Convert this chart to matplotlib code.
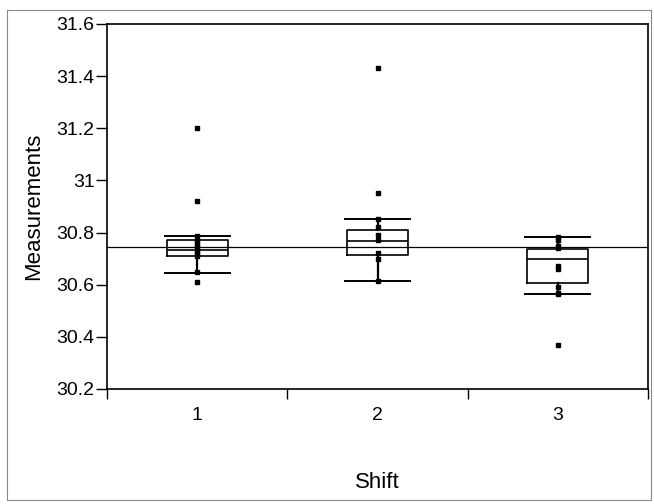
import matplotlib
matplotlib.use("Agg")
import matplotlib.pyplot as plt
from matplotlib.patches import Rectangle

plt.rcParams["font.family"] = ["Liberation Sans", "DejaVu Sans"]

# donnees
shifts = ["1", "2", "3"]

pts_1 = [31.20, 30.92, 30.785, 30.77, 30.76, 30.75, 30.74, 30.73, 30.72, 30.71, 30.65, 30.61]
pts_2 = [31.43, 30.95, 30.853, 30.82, 30.79, 30.77, 30.72, 30.70, 30.615]
pts_3 = [30.783, 30.77, 30.75, 30.74, 30.67, 30.66, 30.59, 30.57, 30.565, 30.37]

whislo = [30.645, 30.615, 30.565]
q1     = [30.710, 30.713, 30.605]
med    = [30.735, 30.767, 30.700]
q3     = [30.770, 30.810, 30.738]
whishi = [30.785, 30.853, 30.783]

grand_mean = 30.745

y_ticks = [30.2, 30.4, 30.6, 30.8, 31.0, 31.2, 31.4, 31.6]
y_labels = ["30.2", "30.4", "30.6", "30.8", "31", "31.2", "31.4", "31.6"]

fig = plt.figure(figsize=(6.54, 5.04), dpi=100)
ax = fig.add_axes([107 / 654, 1 - 389 / 504, 541 / 654, 365 / 504])

# cadre exterieur gris
fig.patches.append(Rectangle((7 / 654, 4 / 504), 644 / 654, 490 / 504,
                             transform=fig.transFigure, fill=False,
                             edgecolor="#888888", linewidth=0.8))

stats = []
for i in range(3):
    stats.append({
        "whislo": whislo[i], "q1": q1[i], "med": med[i],
        "q3": q3[i], "whishi": whishi[i], "fliers": [],
    })

pos = [1, 2, 3]
ax.bxp(stats, positions=pos, widths=0.34, showfliers=False,
       boxprops=dict(color="black", linewidth=1.2),
       medianprops=dict(color="black", linewidth=1.2),
       whiskerprops=dict(color="black", linewidth=1.6),
       capprops=dict(color="black", linewidth=1.4),
       capwidths=0.36)

for x, pts in zip(pos, [pts_1, pts_2, pts_3]):
    ax.plot([x] * len(pts), pts, linestyle="none", marker="s",
            markersize=3.5, color="black")

ax.axhline(grand_mean, color="black", linewidth=0.9, zorder=1)

ax.set_xlim(0.5, 3.5)
ax.set_ylim(30.2, 31.6)

ax.set_yticks(y_ticks)
ax.set_yticklabels(y_labels, fontsize=14)
ax.tick_params(axis="y", direction="out", length=8, width=1, pad=1)

ax.set_xticks(pos)
ax.set_xticklabels(shifts, fontsize=14)
ax.set_xticks([0.5, 1.5, 2.5, 3.5], minor=True)
ax.tick_params(axis="x", which="major", length=0, pad=13)
ax.tick_params(axis="x", which="minor", direction="out", length=7, width=1)

ax.set_xlabel("Shift", fontsize=16)
ax.set_ylabel("Measurements", fontsize=16)
ax.xaxis.set_label_coords(0.5, (389 - 472) / 365)
ax.yaxis.set_label_coords((44 - 107) / 541, 0.5)

for s in ax.spines.values():
    s.set_linewidth(1.2)

plt.savefig("out.png", dpi=100)
plt.close()
